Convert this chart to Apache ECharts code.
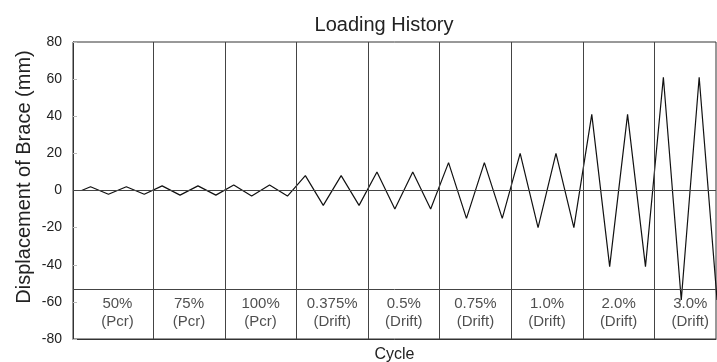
<!DOCTYPE html>
<html>
<head>
<meta charset="utf-8">
<script src="https://cdn.jsdelivr.net/npm/echarts@6/dist/echarts.min.js"></script>
<style>
  html, body { margin: 0; padding: 0; background: #fff; }
  #chart { width: 717px; height: 362px; }
</style>
</head>
<body>
<div id="chart"></div>
<script>
// Loading protocol: two cycles per stage, one peak and one trough per cycle (mm)
const peakValues   = [2, 2, 2.5, 2.5, 3, 3, 8, 8, 10, 10, 15, 15, 20, 20, 41, 41, 61, 61];
const troughValues = [-2, -2, -2.5, -2.5, -3, -3, -8, -8, -10, -10, -15, -15, -20, -20, -41, -41, -59, -59];

// Stage captions shown in the band under the curve
const stageLevels = ['50%', '75%', '100%', '0.375%', '0.5%', '0.75%', '1.0%', '2.0%', '3.0%'];
const stageBasis  = ['(Pcr)', '(Pcr)', '(Pcr)', '(Drift)', '(Drift)', '(Drift)', '(Drift)', '(Drift)', '(Drift)'];

const yTicks = [-80, -60, -40, -20, 0, 20, 40, 60, 80];
const cyclesPerStage = 2;
const bandLevel = -53;      // separator between curve area and stage captions
const captionLevel = -66;   // vertical position of the stage captions

// Vertices of the displacement history: zero start, then peak / trough of each cycle
const history = [[0, 0]];
peakValues.forEach((p, i) => {
  history.push([i + 0.25, p]);
  history.push([i + 0.75, troughValues[i]]);
});

const stageBounds = [];
for (let s = 1; s < stageLevels.length; s++) stageBounds.push(s * cyclesPerStage);

const captions = stageLevels.map((lv, s) => ({
  value: [s * cyclesPerStage + cyclesPerStage / 2, captionLevel],
  label: { formatter: lv + '\n' + stageBasis[s] }
}));

const font = '"Liberation Sans", Arial, sans-serif';
const chart = echarts.init(document.getElementById('chart'), null, { renderer: 'canvas' });

chart.setOption({
  animation: false,
  backgroundColor: '#fff',
  textStyle: { fontFamily: font },
  title: {
    text: 'Loading History',
    left: 379,
    top: 10,
    textAlign: 'center',
    textStyle: { fontFamily: font, fontSize: 20, fontWeight: 'normal', color: '#222' }
  },
  graphic: [{
    type: 'text',
    x: 24,
    y: 177,
    rotation: Math.PI / 2,
    style: {
      text: 'Displacement of Brace (mm)',
      font: '20px ' + font,
      fill: '#222',
      textAlign: 'center',
      textVerticalAlign: 'middle'
    }
  }],
  grid: {
    left: 73, right: 1, top: 42, bottom: 23,
    outerBoundsMode: 'none',
    containLabel: false,
    show: true, borderColor: '#333', borderWidth: 1, backgroundColor: 'transparent'
  },
  xAxis: {
    type: 'value',
    min: -0.24,
    max: 17.72,
    name: 'Cycle',
    nameLocation: 'middle',
    nameGap: 8,
    nameTextStyle: { fontFamily: font, fontSize: 16, color: '#222', verticalAlign: 'top' },
    axisLine: { show: true, onZero: false, lineStyle: { color: '#333', width: 1 } },
    axisTick: { show: false },
    axisLabel: { show: false },
    splitLine: { show: false }
  },
  yAxis: {
    type: 'value',
    min: yTicks[0],
    max: yTicks[yTicks.length - 1],
    interval: 20,
    axisLine: { show: true, onZero: false, lineStyle: { color: '#333', width: 1 } },
    axisTick: { show: true, inside: true, length: 4, lineStyle: { color: '#bbb' } },
    axisLabel: { fontFamily: font, fontSize: 14, color: '#222', margin: 11 },
    splitLine: { show: false }
  },
  series: [
    {
      type: 'line',
      data: history,
      symbol: 'none',
      clip: true,
      lineStyle: { color: '#111', width: 1.2 },
      z: 3,
      markLine: {
        silent: true,
        symbol: 'none',
        label: { show: false },
        lineStyle: { color: '#444', width: 1, type: 'solid' },
        data: [
          { yAxis: 0 },
          { yAxis: bandLevel }
        ].concat(stageBounds.map(b => ({ xAxis: b })))
      }
    },
    {
      type: 'scatter',
      data: captions,
      symbolSize: 0,
      silent: true,
      z: 4,
      label: {
        show: true,
        position: 'inside',
        fontFamily: font,
        fontSize: 15,
        lineHeight: 18,
        color: '#222',
        align: 'center',
        verticalAlign: 'middle'
      }
    }
  ]
});
</script>
</body>
</html>
